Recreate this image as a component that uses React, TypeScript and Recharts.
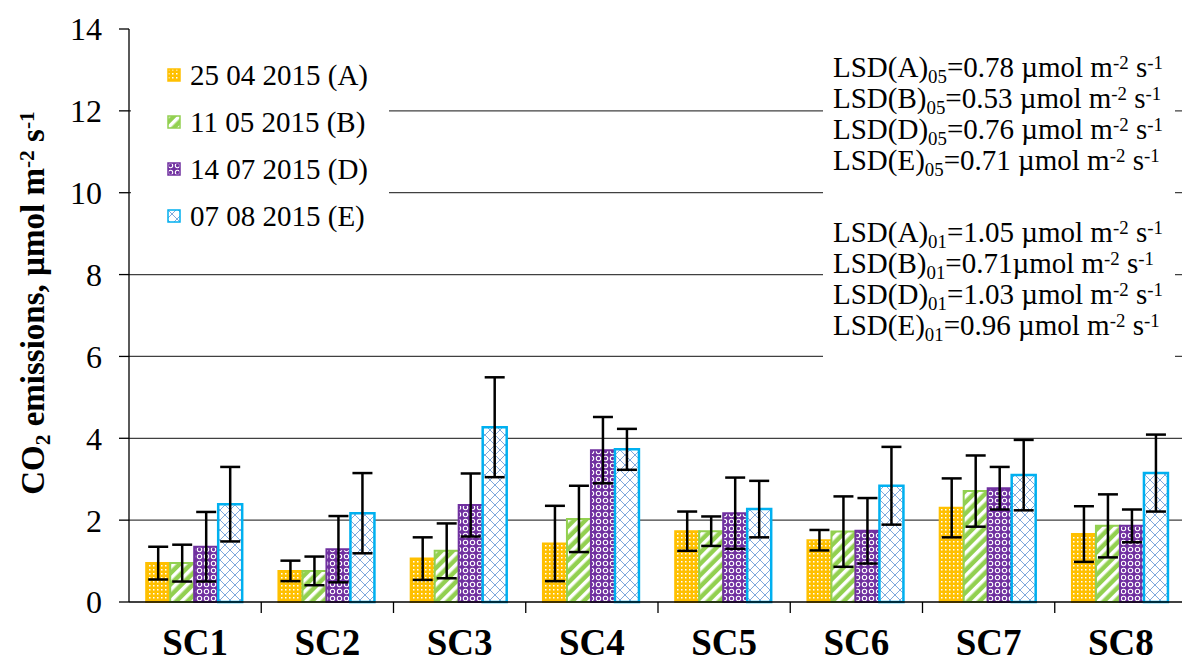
import React from "react";
import { BarChart, Bar, XAxis, YAxis, CartesianGrid, ErrorBar } from "recharts";

const categories = ["SC1", "SC2", "SC3", "SC4", "SC5", "SC6", "SC7", "SC8"];

// mean CO2 emission per sampling date
const valuesA = [0.95, 0.76, 1.06, 1.43, 1.73, 1.51, 2.3, 1.66];
const valuesB = [0.95, 0.76, 1.25, 2.03, 1.73, 1.72, 2.71, 1.86];
const valuesD = [1.35, 1.29, 2.37, 3.71, 2.17, 1.74, 2.78, 1.86];
const valuesE = [2.39, 2.17, 4.27, 3.73, 2.27, 2.84, 3.1, 3.15];

// error bar half lengths
const errorsA = [0.4, 0.25, 0.52, 0.92, 0.48, 0.25, 0.72, 0.68];
const errorsB = [0.45, 0.35, 0.67, 0.81, 0.36, 0.86, 0.87, 0.77];
const errorsD = [0.85, 0.81, 0.77, 0.81, 0.87, 0.8, 0.52, 0.4];
const errorsE = [0.91, 0.98, 1.22, 0.5, 0.69, 0.95, 0.86, 0.94];

const yTicks = [0, 2, 4, 6, 8, 10, 12, 14];
const gridValues = [2, 4, 6, 8, 10, 12];

const seriesLabels = ["25 04 2015 (A)", "11 05 2015 (B)", "14 07 2015 (D)", "07 08 2015 (E)"];

const lsdKeys = ["A", "B", "D", "E"];
const lsd05 = ["0.78", "0.53", "0.76", "0.71"];
const lsd01 = ["1.05", "0.71", "1.03", "0.96"];

const data = categories.map((name, i) => ({
  name,
  a: valuesA[i],
  aErr: errorsA[i],
  b: valuesB[i],
  bErr: errorsB[i],
  d: valuesD[i],
  dErr: errorsD[i],
  e: valuesE[i],
  eErr: errorsE[i],
}));

const FONT = "'Liberation Serif', 'Times New Roman', serif";
const Y_AXIS_W = 129;
const PLOT_W = 1058;
const STEP = PLOT_W / categories.length;

const series = [
  { key: "a", color: "#FFC000", fill: "url(#patA)" },
  { key: "b", color: "#92D050", fill: "url(#patB)" },
  { key: "d", color: "#7030A0", fill: "url(#patD)" },
  { key: "e", color: "#00B0F0", fill: "url(#patE)" },
];

const Sub = ({ children }: { children: React.ReactNode }) => (
  <span style={{ fontSize: "0.65em", position: "relative", top: "0.3em", lineHeight: 0 }}>{children}</span>
);
const Sup = ({ children }: { children: React.ReactNode }) => (
  <span style={{ fontSize: "0.65em", position: "relative", top: "-0.45em", lineHeight: 0 }}>{children}</span>
);

const XTick = (props: any) => {
  const { x, y, payload } = props;
  return (
    <g>
      <line x1={x + STEP / 2} y1={y} x2={x + STEP / 2} y2={y + 11} stroke="#000" strokeWidth={1.3} />
      <text x={x} y={y + 53} textAnchor="middle" fontFamily={FONT} fontWeight="bold" fontSize={37} fill="#000">
        {payload.value}
      </text>
    </g>
  );
};

const LsdLine = ({ k, v, p, tight }: { k: string; v: string; p: string; tight?: boolean }) => (
  <div>
    LSD({k})<Sub>{p}</Sub>={v}
    {tight ? "" : " "}µmol m<Sup>-2</Sup> s<Sup>-1</Sup>
  </div>
);

export default function App() {
  return (
    <div
      style={{
        position: "absolute",
        left: 0,
        top: 0,
        width: 1182,
        height: 664,
        overflow: "hidden",
        background: "#fff",
        fontFamily: FONT,
      }}
    >
      <BarChart
        width={Y_AXIS_W + PLOT_W + 1}
        height={664}
        data={data}
        margin={{ top: 29, right: 1, bottom: 0, left: 0 }}
        barCategoryGap="13%"
        barGap={0}
      >
        <defs>
          <pattern id="patA" width={4} height={4} patternUnits="userSpaceOnUse">
            <rect width={4} height={4} fill="#FFC000" />
            <rect x={1} y={1} width={1.5} height={1.5} fill="#fff" />
          </pattern>
          <pattern id="patB" width={8} height={8} patternUnits="userSpaceOnUse" patternTransform="rotate(45)">
            <rect width={8} height={8} fill="#92D050" />
            <rect width={3.5} height={8} fill="#fff" />
          </pattern>
          <pattern id="patD" width={7} height={7} patternUnits="userSpaceOnUse">
            <rect width={7} height={7} fill="#7030A0" />
            <circle cx={3.5} cy={3.5} r={2.2} fill="none" stroke="#fff" strokeWidth={1.1} />
          </pattern>
          <pattern id="patE" width={10} height={10} patternUnits="userSpaceOnUse">
            <rect width={10} height={10} fill="#fff" />
            <path d="M0 0 L10 10 M10 0 L0 10" stroke="#7FA8DC" strokeWidth={1} />
          </pattern>
        </defs>
        <CartesianGrid vertical={false} horizontalValues={gridValues} stroke="#404040" strokeWidth={1.3} />
        <XAxis
          dataKey="name"
          height={62}
          axisLine={{ stroke: "#000", strokeWidth: 1.3 }}
          tickLine={false}
          tickSize={0}
          tickMargin={0}
          tick={<XTick />}
          interval={0}
        />
        <YAxis
          width={Y_AXIS_W}
          domain={[0, 14]}
          ticks={yTicks}
          interval={0}
          axisLine={{ stroke: "#000", strokeWidth: 1.3 }}
          tickLine={{ stroke: "#000", strokeWidth: 1.3 }}
          tickSize={10}
          tickMargin={17}
          tick={{ fontFamily: FONT, fontSize: 32, fill: "#000" }}
        />
        {series.map((s) => (
          <Bar
            key={s.key}
            dataKey={s.key}
            fill={s.fill}
            stroke={s.color}
            strokeWidth={s.key === "e" ? 2.5 : 2}
            isAnimationActive={false}
          >
            <ErrorBar dataKey={s.key + "Err"} width={10} stroke="#000" strokeWidth={2.5} direction="y" />
          </Bar>
        ))}
      </BarChart>

      {/* y axis title */}
      <div
        style={{
          position: "absolute",
          left: 33,
          top: 303,
          transform: "translate(-50%, -50%) rotate(-90deg)",
          whiteSpace: "nowrap",
          fontWeight: "bold",
          fontSize: 33,
          color: "#000",
        }}
      >
        CO<Sub>2</Sub> emissions, µmol m<Sup>-2</Sup> s<Sup>-1</Sup>
      </div>

      {/* legend */}
      <div
        style={{
          position: "absolute",
          left: 131,
          top: 45,
          width: 258,
          height: 195,
          background: "#fff",
        }}
      >
        {seriesLabels.map((label, i) => (
          <div
            key={label}
            style={{
              position: "absolute",
              left: 36,
              top: 13 + i * 47,
              height: 34,
              display: "flex",
              alignItems: "center",
              fontSize: 29,
              whiteSpace: "nowrap",
              color: "#000",
            }}
          >
            <svg width={14} height={14} style={{ marginRight: 9 }}>
              <rect x={1} y={1} width={12} height={12} fill={series[i].fill} stroke={series[i].color} strokeWidth={1.5} />
            </svg>
            {label}
          </div>
        ))}
      </div>

      {/* LSD notes */}
      <div
        style={{
          position: "absolute",
          left: 823,
          top: 46,
          width: 352,
          height: 312,
          background: "#fff",
          fontSize: 29,
          lineHeight: "31px",
          color: "#000",
          whiteSpace: "nowrap",
        }}
      >
        <div style={{ position: "absolute", left: 10, top: 6 }}>
          {lsdKeys.map((k, i) => (
            <LsdLine key={k} k={k} v={lsd05[i]} p="05" />
          ))}
        </div>
        <div style={{ position: "absolute", left: 10, top: 171 }}>
          {lsdKeys.map((k, i) => (
            <LsdLine key={k} k={k} v={lsd01[i]} p="01" tight={k === "B"} />
          ))}
        </div>
      </div>
    </div>
  );
}
